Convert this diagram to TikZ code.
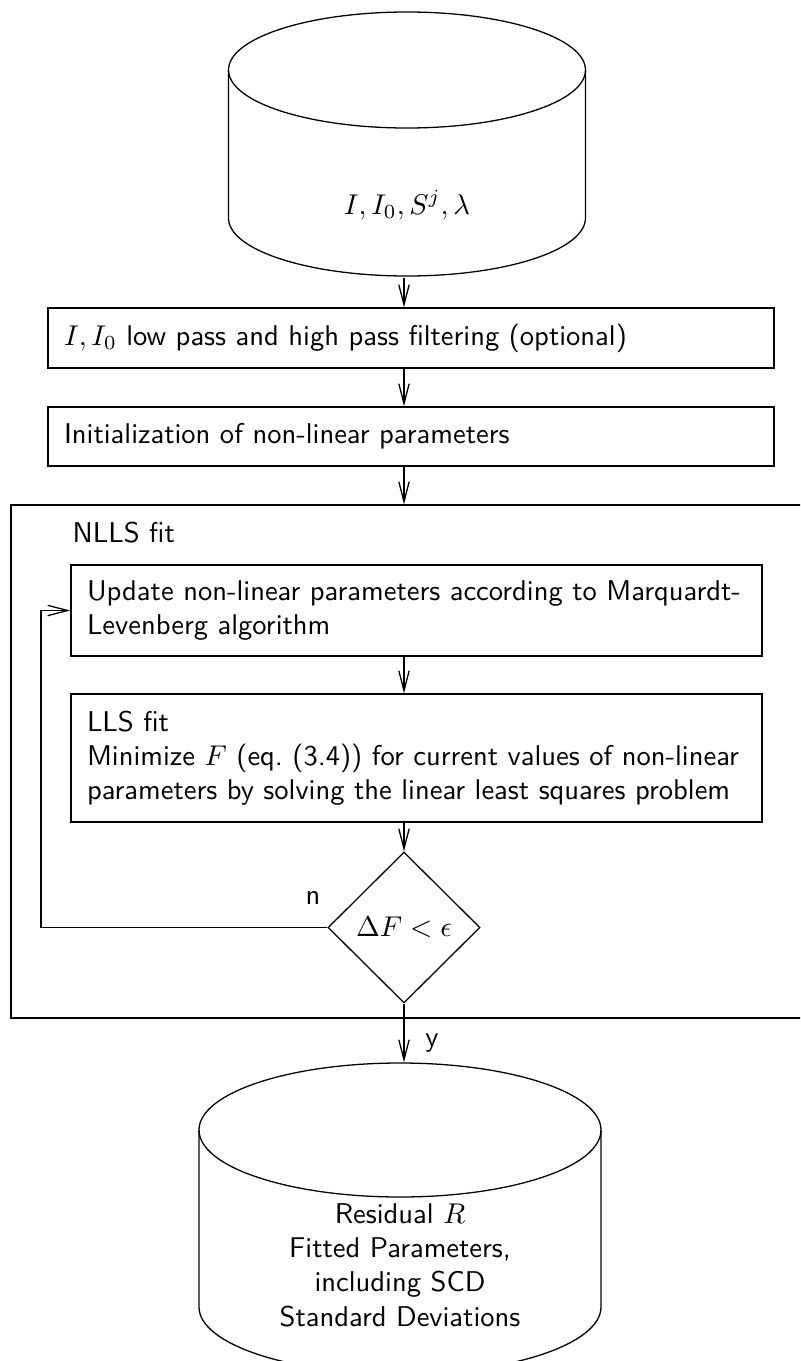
\documentclass[tikz,border=0pt]{standalone}
\usetikzlibrary{arrows.meta,shapes.geometric}
\begin{document}
\def\pxu{0.35pt}
\begin{tikzpicture}[x=0.35pt,y=-0.35pt, line width=0.45pt,
  arr/.style={-{Straight Barb[length=7pt,width=3.6pt]}},
  boxnode/.style={draw, rectangle, inner sep=0pt},
  txt/.style={font=\sffamily, align=left, inner sep=0pt, anchor=west},
  lbl/.style={font=\sffamily, inner sep=0pt}]
\clip (0,0) rectangle (800,1361);
\useasboundingbox (0,0) rectangle (800,1361);
% top cylinder
\draw (407,70) ellipse [x radius=178.5*\pxu, y radius=58*\pxu];
\draw (228.5,70) -- (228.5,218) arc[start angle=180,end angle=360,x radius=178.5*\pxu,y radius=58*\pxu] -- (585.5,70);
\node[minimum width=357*\pxu, minimum height=265*\pxu, inner sep=0pt] (src) at (407,144.5) {};
\node (srctxt) at (407,205) {$I, I_0, S^j, \lambda$};
% boxes
\node[boxnode, minimum width=726*\pxu, minimum height=60*\pxu] (b1) at (411,338) {};
\node[txt] (t1) at ([xshift=16*\pxu]b1.west) {$I, I_0$ low pass and high pass filtering (optional)};
\node[boxnode, minimum width=726*\pxu, minimum height=59*\pxu] (b2) at (411,436.5) {};
\node[txt] (t2) at ([xshift=16*\pxu]b2.west) {Initialization of non-linear parameters};
% NLLS frame
\node[boxnode, minimum width=800*\pxu, minimum height=513*\pxu] (nlls) at (411,761.5) {};
\node[lbl, anchor=base west] (nllst) at (72,542) {NLLS fit};
\node[boxnode, minimum width=691*\pxu, minimum height=91*\pxu] (b3) at (416.5,610.5) {};
\node[txt] (t3) at ([xshift=16*\pxu]b3.west) {Update non-linear parameters according to Marquardt-\\Levenberg algorithm};
\node[boxnode, minimum width=691*\pxu, minimum height=128*\pxu] (b4) at (416.5,758) {};
\node[txt] (t4) at ([xshift=16*\pxu]b4.west) {LLS fit\\Minimize $F$ (eq.\ (3.4)) for current values of non-linear\\parameters by solving the linear least squares problem};
\node[draw, diamond, aspect=1, minimum width=152*\pxu, minimum height=151*\pxu, inner sep=0pt] (dec) at (404,927.5) {$\Delta F<\epsilon$};
% bottom cylinder
\draw (400,1130) ellipse [x radius=201*\pxu, y radius=67*\pxu];
\draw (199,1130) -- (199,1307) arc[start angle=180,end angle=360,x radius=201*\pxu,y radius=67*\pxu] -- (601,1130);
\node[minimum width=402*\pxu, minimum height=311*\pxu, inner sep=0pt] (dst) at (400,1218.5) {};
\node[font=\sffamily, align=center, inner sep=0pt] (res) at (400,1265) {Residual $R$\\Fitted Parameters,\\including SCD\\Standard Deviations};
% connectors
\coordinate (loop) at (41,927.5);
\draw[arr] (src.south -| dec.center) -- (b1.north -| dec.center);
\draw[arr] (b1.south -| dec.center) -- (b2.north -| dec.center);
\draw[arr] (b2.south -| dec.center) -- (nlls.north -| dec.center);
\draw[arr] (b3.south -| dec.center) -- (b4.north -| dec.center);
\draw[arr] (b4.south -| dec.center) -- (dec.north);
\draw[arr] (dec.west) -- (loop) |- (b3.west);
\draw[arr] (dec.south) -- (dst.north -| dec.center);
\node[lbl] (nl) at (313,898) {n};
\node[lbl] (yl) at (432,1043) {y};
\end{tikzpicture}
\end{document}
